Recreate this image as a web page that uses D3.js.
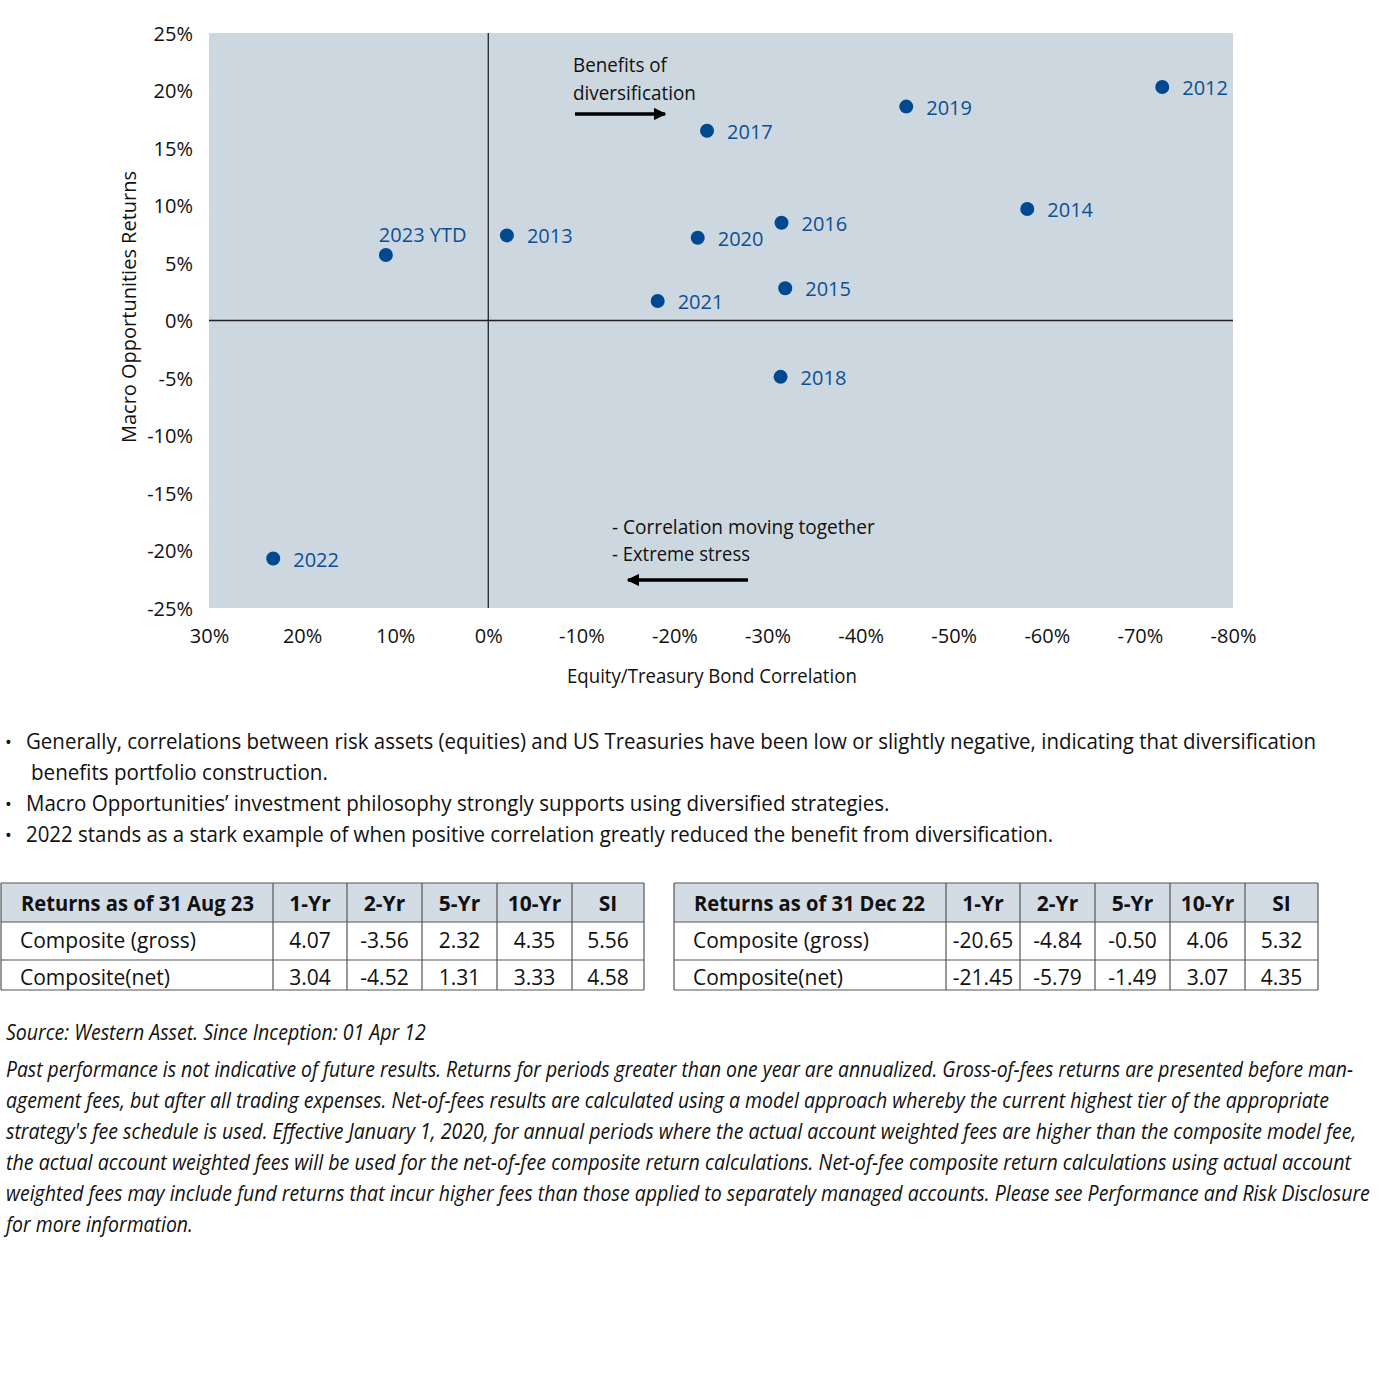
<!DOCTYPE html>
<html>
<head>
<meta charset="utf-8">
<script src="https://cdn.jsdelivr.net/npm/d3@7"></script>
<style>
  body { margin: 0; background: #fff; }
  svg { display: block; font-family: "Open Sans", "Noto Sans", sans-serif; }
</style>
</head>
<body>
<svg id="chart" width="1379" height="1388"></svg>
<script>
// scatter data: equity/treasury correlation (%) vs Macro Opportunities return (%)
const years = ["2012", "2013", "2014", "2015", "2016", "2017", "2018", "2019", "2020", "2021", "2022", "2023 YTD"];
const correlation = [-72.4, -2.0, -57.9, -31.9, -31.5, -23.5, -31.4, -44.9, -22.5, -18.2, 23.1, 11.0];
const returns = [20.3, 7.4, 9.7, 2.8, 8.5, 16.5, -4.9, 18.6, 7.2, 1.7, -20.7, 5.7];

const xTicks = [30, 20, 10, 0, -10, -20, -30, -40, -50, -60, -70, -80];
const yTicks = [25, 20, 15, 10, 5, 0, -5, -10, -15, -20, -25];

const bullets = [
  ["Generally, correlations between risk assets (equities) and US Treasuries have been low or slightly negative, indicating that diversification", "benefits portfolio construction."],
  ["Macro Opportunities\u2019 investment philosophy strongly supports using diversified strategies."],
  ["2022 stands as a stark example of when positive correlation greatly reduced the benefit from diversification."]
];

// tables
const tableCols = ["1-Yr", "2-Yr", "5-Yr", "10-Yr", "SI"];
const rowLabels = ["Composite (gross)", "Composite(net)"];
const aug23Gross = ["4.07", "-3.56", "2.32", "4.35", "5.56"];
const aug23Net = ["3.04", "-4.52", "1.31", "3.33", "4.58"];
const dec22Gross = ["-20.65", "-4.84", "-0.50", "4.06", "5.32"];
const dec22Net = ["-21.45", "-5.79", "-1.49", "3.07", "4.35"];

const sourceLine = "Source: Western Asset. Since Inception: 01 Apr 12";
const disclaimer = [
  "Past performance is not indicative of future results. Returns for periods greater than one year are annualized. Gross-of-fees returns are presented before man-",
  "agement fees, but after all trading expenses. Net-of-fees results are calculated using a model approach whereby the current highest tier of the appropriate",
  "strategy's fee schedule is used. Effective January 1, 2020, for annual periods where the actual account weighted fees are higher than the composite model fee,",
  "the actual account weighted fees will be used for the net-of-fee composite return calculations. Net-of-fee composite return calculations using actual account",
  "weighted fees may include fund returns that incur higher fees than those applied to separately managed accounts. Please see Performance and Risk Disclosure",
  "for more information."
];

const svg = d3.select("#chart");
const plot = { left: 209, right: 1233, top: 33, bottom: 608 };

const x = d3.scaleLinear().domain([30, -80]).range([plot.left, plot.right]);
const y = d3.scaleLinear().domain([-25, 25]).range([plot.bottom, plot.top]);

// squeeze a text horizontally so it spans the given width (condensed look)
function fitWidth(sel, x0, y0, w) {
  const nat = sel.node().getComputedTextLength();
  sel.attr("x", 0).attr("y", 0)
    .attr("transform", `translate(${x0},${y0}) scale(${w / nat},1)`);
}

svg.append("defs").append("marker")
  .attr("id", "arrow")
  .attr("viewBox", "0 0 10 10")
  .attr("refX", 9).attr("refY", 5)
  .attr("markerWidth", 3.6).attr("markerHeight", 3.6)
  .attr("markerUnits", "strokeWidth")
  .attr("orient", "auto")
  .append("path").attr("d", "M0,0L10,5L0,10Z").attr("fill", "#000");

svg.append("rect")
  .attr("x", plot.left).attr("y", plot.top)
  .attr("width", plot.right - plot.left).attr("height", plot.bottom - plot.top)
  .attr("fill", "#cdd7e0");

// zero lines
svg.append("line")
  .attr("x1", x(0)).attr("x2", x(0)).attr("y1", plot.top).attr("y2", plot.bottom)
  .attr("stroke", "#222").attr("stroke-width", 1.3);
svg.append("line")
  .attr("x1", plot.left).attr("x2", plot.right).attr("y1", y(0)).attr("y2", y(0))
  .attr("stroke", "#222").attr("stroke-width", 1.3);

const xAxis = svg.append("g")
  .attr("transform", `translate(0,${plot.bottom})`)
  .call(d3.axisBottom(x).tickValues(xTicks).tickSize(0).tickPadding(21).tickFormat(d => d + "%"));
const yAxis = svg.append("g")
  .attr("transform", `translate(${plot.left},0)`)
  .call(d3.axisLeft(y).tickValues(yTicks).tickSize(0).tickPadding(16).tickFormat(d => d + "%"));
[xAxis, yAxis].forEach(g => {
  g.select(".domain").remove();
  g.selectAll("text").attr("font-size", 20).attr("fill", "#111").attr("font-family", "'Open Sans', sans-serif");
});
yAxis.selectAll("text").attr("dy", "0.35em");

fitWidth(svg.append("text").attr("font-size", 20).attr("fill", "#111")
  .text("Equity/Treasury Bond Correlation"), 567, 683, 290);
svg.append("text")
  .attr("transform", "translate(136,307) rotate(-90)")
  .attr("text-anchor", "middle").attr("font-size", 20).attr("fill", "#111")
  .text("Macro Opportunities Returns");

// points
const pts = years.map((yr, i) => ({ year: yr, cx: correlation[i], cy: returns[i] }));
svg.append("g").selectAll("circle")
  .data(pts).enter().append("circle")
  .attr("cx", d => x(d.cx)).attr("cy", d => y(d.cy))
  .attr("r", 7).attr("fill", "#004990");

svg.append("g").selectAll("text")
  .data(pts).enter().append("text")
  .attr("x", d => d.year === "2023 YTD" ? x(d.cx) - 7 : x(d.cx) + 20)
  .attr("y", d => d.year === "2023 YTD" ? y(d.cy) - 13 : y(d.cy) + 8)
  .attr("font-size", 20).attr("fill", "#0d4f95")
  .text(d => d.year);

// annotations
const note = svg.append("g").attr("font-size", 20).attr("fill", "#111");
fitWidth(note.append("text").text("Benefits of"), 573, 72, 94);
fitWidth(note.append("text").text("diversification"), 573, 100, 123);
fitWidth(note.append("text").text("- Correlation moving together"), 612, 534, 263);
fitWidth(note.append("text").text("- Extreme stress"), 612, 561, 138);
svg.append("line").attr("x1", 575).attr("x2", 665).attr("y1", 114).attr("y2", 114)
  .attr("stroke", "#000").attr("stroke-width", 3.5).attr("marker-end", "url(#arrow)");
svg.append("line").attr("x1", 748).attr("x2", 628).attr("y1", 580).attr("y2", 580)
  .attr("stroke", "#000").attr("stroke-width", 3.5).attr("marker-end", "url(#arrow)");

// bullets
const bl = svg.append("g").attr("font-size", 22).attr("fill", "#111");
const bulletW = [[1291, 297], [864], [1028]];
let by = 749;
bullets.forEach((b, i) => {
  b.forEach((line, j) => {
    if (j === 0) bl.append("text").attr("x", 5).attr("y", by).attr("font-size", 18).text("\u2022");
    fitWidth(bl.append("text").text(line), j === 0 ? 26 : 31, by, bulletW[i][j]);
    by += 31;
  });
});

// tables
function drawTable(x0, colEdges, title, gross, net, titleW) {
  const g = svg.append("g");
  const rows = [883, 922, 960, 990];
  g.append("rect").attr("x", x0).attr("y", rows[0])
    .attr("width", colEdges[colEdges.length - 1] - x0).attr("height", rows[1] - rows[0])
    .attr("fill", "#d3dbe4");
  const edges = [x0].concat(colEdges);
  rows.forEach(ry => g.append("line").attr("x1", x0).attr("x2", edges[edges.length - 1])
    .attr("y1", ry).attr("y2", ry).attr("stroke", "#555").attr("stroke-width", 1.2));
  edges.forEach(ex => g.append("line").attr("x1", ex).attr("x2", ex)
    .attr("y1", rows[0]).attr("y2", rows[3]).attr("stroke", "#555").attr("stroke-width", 1.2));
  fitWidth(g.append("text").attr("font-size", 22).attr("font-weight", "bold").attr("fill", "#111").text(title),
    x0 + 20, 911, titleW);
  tableCols.forEach((c, i) => g.append("text")
    .attr("x", (edges[i + 1] + edges[i + 2]) / 2).attr("y", 911)
    .attr("text-anchor", "middle").attr("font-size", 21).attr("font-weight", "bold").attr("fill", "#111")
    .text(c));
  [gross, net].forEach((vals, r) => {
    const ty = r === 0 ? 948 : 985;
    g.append("text").attr("x", x0 + 19).attr("y", ty).attr("font-size", 21).attr("fill", "#111")
      .text(rowLabels[r]);
    vals.forEach((v, i) => g.append("text")
      .attr("x", (edges[i + 1] + edges[i + 2]) / 2).attr("y", ty)
      .attr("text-anchor", "middle").attr("font-size", 21).attr("fill", "#111")
      .text(v));
  });
}
drawTable(1, [273, 347, 422, 497, 572, 644], "Returns as of 31 Aug 23", aug23Gross, aug23Net, 233);
drawTable(674, [946, 1020, 1095, 1170, 1245, 1318], "Returns as of 31 Dec 22", dec22Gross, dec22Net, 231);

// footnotes
const fn = svg.append("g").attr("font-size", 21).attr("font-style", "italic").attr("fill", "#111");
fitWidth(fn.append("text").text(sourceLine), 6, 1040, 420);
const discW = [1348, 1324, 1351, 1346, 1365, 187];
disclaimer.forEach((line, i) => {
  fitWidth(fn.append("text").text(line), 6, 1077 + i * 31, discW[i]);
});
</script>
</body>
</html>
